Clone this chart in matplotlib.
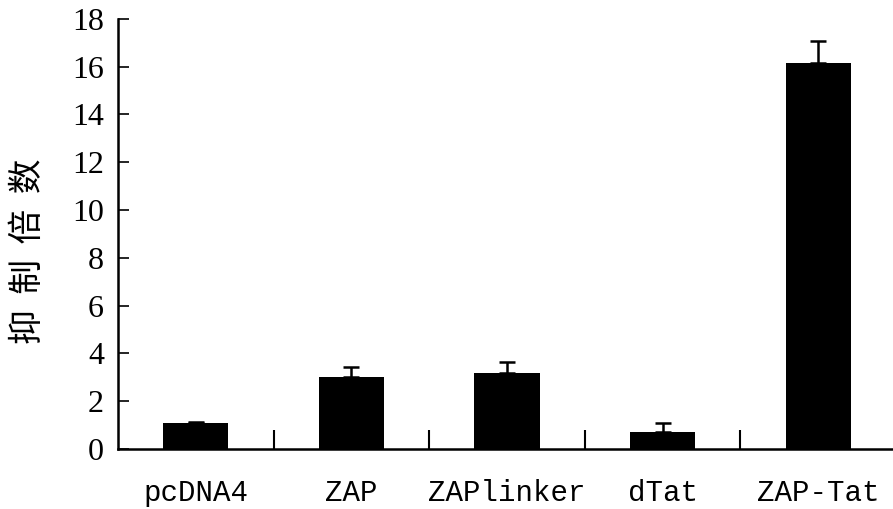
import numpy as np
import matplotlib.pyplot as plt

# Values
labels = ["pcDNA4", "ZAP", "ZAPlinker", "dTat", "ZAP-Tat"]
fold = [1.08, 3.0, 3.19, 0.72, 16.15]
err_up = [0.04, 0.44, 0.44, 0.38, 0.93]

fig = plt.figure(figsize=(8.93, 5.09), dpi=100)
ax = fig.add_axes([0.132, 0.118, 0.868, 0.845])

x = np.arange(len(labels))
ax.bar(x, fold, width=0.42, color="black", zorder=2)
ax.errorbar(x, fold, yerr=[np.zeros(len(fold)), err_up], fmt="none",
            ecolor="black", elinewidth=1.8, capsize=6, capthick=1.8, zorder=3)

ax.set_xlim(-0.5, 4.48)
ax.set_ylim(0, 18)
ax.set_yticks(np.arange(0, 19, 2))
ax.set_xticks(x)
ax.set_xticklabels(labels, family="Liberation Mono", fontsize=21)
ax.set_xticks(x[:-1] + 0.5, minor=True)
ax.tick_params(axis="x", which="major", length=0, pad=22)
ax.tick_params(axis="x", which="minor", direction="in", length=14, width=1.5)
ax.tick_params(axis="y", direction="in", length=8, width=1.2, pad=10)
for t in ax.get_yticklabels():
    t.set_family("Liberation Serif")
    t.set_fontsize(23)

for side in ["top", "right"]:
    ax.spines[side].set_visible(False)
ax.spines["left"].set_linewidth(1.8)
ax.spines["bottom"].set_linewidth(1.8)

# y label, spaced characters, a little below the axis centre
fig.text(28 / 893, 1 - 251 / 509, "抑  制  倍  数", rotation=90,
         ha="center", va="center", fontsize=25,
         family=["Noto Sans CJK SC", "DejaVu Sans"])

fig.savefig("out.png", dpi=100)
